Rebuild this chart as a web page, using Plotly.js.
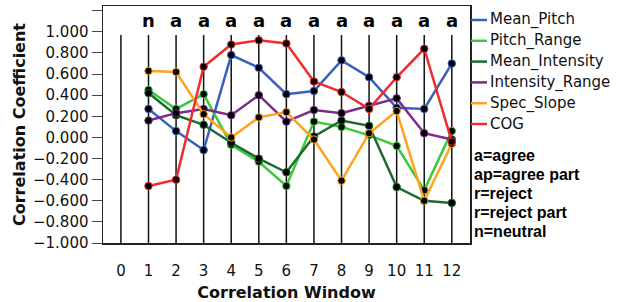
<!DOCTYPE html>
<html>
<head>
<meta charset="utf-8">
<script src="https://cdn.plot.ly/plotly-3.0.1.min.js"></script>
<style>html,body{margin:0;padding:0;background:#fff;}#chart{width:629px;height:302px;}</style>
</head>
<body>
<div id="chart"></div>
<script>
// ---- data ----
const windows = [1, 2, 3, 4, 5, 6, 7, 8, 9, 10, 11, 12];
const windowTicks = [0, 1, 2, 3, 4, 5, 6, 7, 8, 9, 10, 11, 12];
const verdicts = ['n', 'a', 'a', 'a', 'a', 'a', 'a', 'a', 'a', 'a', 'a', 'a'];
const seriesNames = ['Mean_Pitch', 'Pitch_Range', 'Mean_Intensity', 'Intensity_Range', 'Spec_Slope', 'COG'];
const meanPitch      = [0.27, 0.06, -0.12, 0.78, 0.66, 0.41, 0.44, 0.73, 0.57, 0.28, 0.27, 0.70];
const pitchRange     = [0.45, 0.27, 0.41, -0.07, -0.23, -0.46, 0.15, 0.10, 0.02, -0.08, -0.50, 0.06];
const meanIntensity  = [0.42, 0.21, 0.12, -0.05, -0.20, -0.33, 0.01, 0.16, 0.11, -0.47, -0.60, -0.62];
const intensityRange = [0.16, 0.23, 0.27, 0.21, 0.40, 0.15, 0.26, 0.23, 0.30, 0.37, 0.04, -0.02];
const specSlope      = [0.63, 0.62, 0.22, 0.00, 0.19, 0.24, -0.02, -0.41, 0.04, 0.25, -0.60, -0.06];
const cog            = [-0.46, -0.40, 0.67, 0.88, 0.92, 0.89, 0.53, 0.43, 0.27, 0.57, 0.84, -0.04];
const keyLines = ['a=agree', 'ap=agree part', 'r=reject', 'r=reject part', 'n=neutral'];
const yTicks = [-1, -0.8, -0.6, -0.4, -0.2, 0, 0.2, 0.4, 0.6, 0.8, 1.0, 1.2];

// ---- styles ----
const seriesValues = [meanPitch, pitchRange, meanIntensity, intensityRange, specSlope, cog];
const colors = ['#3b5fbf', '#3cc83c', '#1d6b33', '#7a2c8a', '#ffa31f', '#f02c2c'];
const W = 629, H = 302, ML = 103, MR = 159, MT = 6, MB = 59;
const PW = W - ML - MR, PH = H - MT - MB;
const px = x => (x - ML) / PW;
const py = y => (H - MB - y) / PH;

const traces = [];
seriesValues.forEach((vals, i) => {
  traces.push({
    x: windows, y: vals, name: seriesNames[i], type: 'scatter', mode: 'lines+markers',
    line: {color: colors[i], width: 2.5},
    marker: {color: '#000', size: 7.5, line: {color: colors[i], width: 1}},
    showlegend: false, hoverinfo: 'x+y+name'
  });
});

const shapes = windowTicks.map(w => ({
  type: 'line', xref: 'x', yref: 'y', x0: w, x1: w, y0: -1, y1: 0.97,
  line: {color: '#111', width: 1.5}, layer: 'below'
}));

const annotations = windows.map((w, i) => ({
  x: w, y: 1.11, xref: 'x', yref: 'y', text: verdicts[i], showarrow: false,
  font: {family: 'DejaVu Sans', size: 18, color: '#000', weight: 'bold'}
}));

seriesNames.forEach((n, i) => {
  const yy = 20 + i * 20.8;
  shapes.push({type: 'line', xref: 'paper', yref: 'paper', x0: px(471), x1: px(487), y0: py(yy), y1: py(yy),
    line: {color: colors[i], width: 2.5}});
  annotations.push({xref: 'paper', yref: 'paper', x: px(488), y: py(yy), xanchor: 'left', yanchor: 'middle',
    text: n, showarrow: false, font: {family: 'DejaVu Sans', size: 15, color: '#111'}});
});

keyLines.forEach((t, i) => {
  const yy = 155 + i * 19.2;
  annotations.push({xref: 'paper', yref: 'paper', x: px(472), y: py(yy), xanchor: 'left', yanchor: 'middle',
    text: t, showarrow: false, font: {family: 'Liberation Sans', size: 16, color: '#000', weight: 'bold'}});
});

const layout = {
  width: W, height: H,
  margin: {l: ML, r: MR, t: MT, b: MB, pad: 0},
  paper_bgcolor: '#fff', plot_bgcolor: '#fff',
  showlegend: false,
  font: {family: 'DejaVu Sans', color: '#111'},
  xaxis: {
    range: [-0.65, 12.66], tickvals: windowTicks, ticktext: windowTicks.map(String),
    showgrid: false, zeroline: false, showline: true, linecolor: '#222', linewidth: 1.5, mirror: true,
    ticks: 'outside', ticklen: 13, tickcolor: 'rgba(0,0,0,0)',
    tickfont: {family: 'DejaVu Sans', size: 15, color: '#111'},
    title: {text: 'Correlation Window', font: {family: 'DejaVu Sans', size: 16, color: '#111', weight: 'bold'}, standoff: 10}
  },
  yaxis: {
    range: [-1, 1.245], tickvals: yTicks,
    ticktext: yTicks.map(v => v > 1.05 ? '' : (v < 0 ? '\u2212' : '') + Math.abs(v).toFixed(3)),
    showgrid: false, zeroline: false, showline: true, linecolor: '#222', linewidth: 1.5, mirror: true,
    ticks: 'outside', ticklen: 10, tickcolor: '#444', tickwidth: 1,
    tickfont: {family: 'DejaVu Sans', size: 15, color: '#111'},
    title: {text: 'Correlation Coefficient', font: {family: 'DejaVu Sans', size: 16, color: '#111', weight: 'bold'}, standoff: 3}
  },
  shapes: shapes,
  annotations: annotations
};

Plotly.newPlot('chart', traces, layout, {displayModeBar: false, staticPlot: true});
</script>
</body>
</html>
